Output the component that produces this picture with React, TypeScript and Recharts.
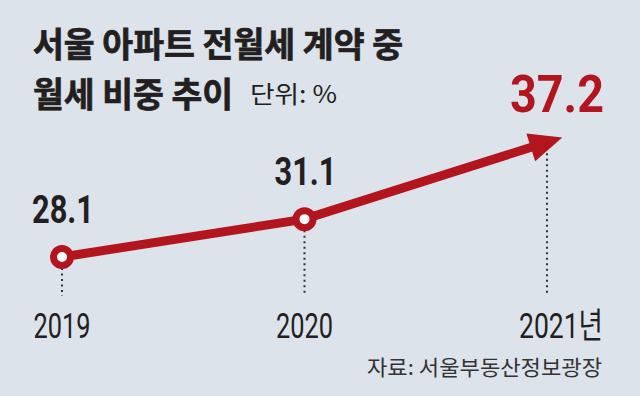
import { LabelList, Line, LineChart, ReferenceLine, XAxis, YAxis } from 'recharts'

const years = ['2019', '2020', '2021']
const yearLabels = ['2019', '2020', '2021년']
const monthlyShare = [28.1, 31.1, 37.2]

const data = years.map((year, i) => ({ year, share: monthlyShare[i] }))

const RED = '#b3151f'
const INK = '#231f20'
const BG = '#dce3ea'
const NUM_FONT = 'Roboto, "Liberation Sans", sans-serif'
const KR_FONT = '"Noto Sans CJK KR", "Noto Sans", sans-serif'

function YearTick({ x, y, index }: any) {
  const label = yearLabels[index]
  const last = index === yearLabels.length - 1
  return (
    <text
      x={last ? x - 28 : x}
      y={y + 42}
      textAnchor={last ? 'start' : 'middle'}
      fontFamily={`${NUM_FONT}, ${KR_FONT}`}
      fontSize={35}
      fill={INK}
      textLength={last ? 84 : 57}
      lengthAdjust="spacingAndGlyphs"
    >
      {label}
    </text>
  )
}

function ValueLabel({ x, y, value, index }: any) {
  const last = index === monthlyShare.length - 1
  if (last) {
    return (
      <text
        x={x + 10}
        y={y - 30}
        textAnchor="middle"
        fontFamily={NUM_FONT}
        fontWeight={700}
        fontSize={52}
        fill={RED}
        textLength={94}
        lengthAdjust="spacingAndGlyphs"
      >
        {value}
      </text>
    )
  }
  return (
    <text
      x={x + 1}
      y={y - 34}
      textAnchor="middle"
      fontFamily={NUM_FONT}
      fontWeight={700}
      fontSize={39}
      fill={INK}
      textLength={62}
      lengthAdjust="spacingAndGlyphs"
    >
      {value}
    </text>
  )
}

function Dot({ cx, cy, index }: any) {
  if (index === monthlyShare.length - 1) return <g key={index} />
  return <circle key={index} cx={cx} cy={cy} r={8.5} fill="#fff" stroke={RED} strokeWidth={7} />
}

export default function App() {
  return (
    <div style={{ position: 'absolute', left: 0, top: 0, width: 640, height: 396, background: BG }}>
      <svg width={0} height={0} style={{ position: 'absolute' }}>
        <defs>
          <marker
            id="arrowHead"
            viewBox="-20 -16 40 32"
            refX={0}
            refY={0}
            markerWidth={40}
            markerHeight={32}
            markerUnits="userSpaceOnUse"
            orient="auto"
          >
            <path d="M16,0 L-17,-14.5 L-17,14.5 Z" fill={RED} />
          </marker>
        </defs>
      </svg>
      <svg width={640} height={396} style={{ position: 'absolute', left: 0, top: 0 }}>
        <text x={33} y={57} fontFamily={KR_FONT} fontWeight={700} fontSize={34} fill={INK} stroke={INK} strokeWidth={0.7} textLength={370} lengthAdjust="spacingAndGlyphs">
          서울 아파트 전월세 계약 중
        </text>
        <text x={33} y={107} fontFamily={KR_FONT} fontWeight={700} fontSize={34} fill={INK} stroke={INK} strokeWidth={0.7} textLength={200} lengthAdjust="spacingAndGlyphs">
          월세 비중 추이
        </text>
        <text x={250} y={103} fontFamily={KR_FONT} fontSize={24} fill={INK} textLength={87} lengthAdjust="spacingAndGlyphs">
          단위: %
        </text>
        <text x={367} y={375} fontFamily={KR_FONT} fontSize={21} fill="#333" textLength={235} lengthAdjust="spacingAndGlyphs">
          자료: 서울부동산정보광장
        </text>
      </svg>
      <div style={{ position: 'absolute', left: 0, top: 0 }}>
        <LineChart width={640} height={396} data={data} margin={{ top: 107, right: 93, bottom: 70, left: 62 }}>
          <XAxis dataKey="year" axisLine={false} tickLine={false} tickSize={0} tickMargin={0} interval={0} tick={<YearTick />} />
          <YAxis hide domain={[25, 40]} />
          {data.map((d) => (
            <ReferenceLine
              key={d.year}
              segment={[
                { x: d.year, y: d.share },
                { x: d.year, y: 25 },
              ]}
              stroke="#333"
              strokeWidth={2}
              strokeDasharray="2 3.5"
            />
          ))}
          <Line
            type="linear"
            dataKey="share"
            stroke={RED}
            strokeWidth={9}
            dot={<Dot />}
            activeDot={false}
            markerEnd="url(#arrowHead)"
            isAnimationActive={false}
          >
            <LabelList dataKey="share" content={<ValueLabel />} />
          </Line>
        </LineChart>
      </div>
    </div>
  )
}
